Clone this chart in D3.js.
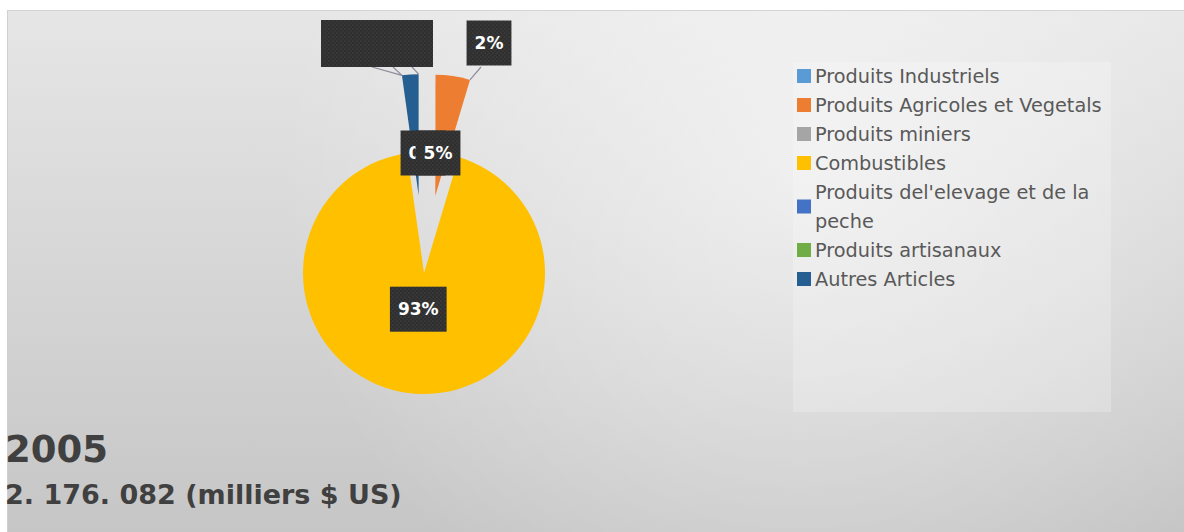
<!DOCTYPE html>
<html><head><meta charset="utf-8">
<script src="https://cdn.jsdelivr.net/npm/d3@7"></script>
<style>body{margin:0;background:#fff;overflow:hidden}svg{display:block}</style>
</head><body>
<script>
// ---- data ----
const categories = ["Produits Industriels","Produits Agricoles et Vegetals","Produits miniers","Combustibles","Produits del'elevage et de la peche","Produits artisanaux","Autres Articles"];
const values = [0.02, 4.6, 0.02, 93.12, 0.02, 0.02, 2.2];
const colors = ["#5B9BD5","#ED7D31","#A5A5A5","#FFC000","#4472C4","#70AD47","#255E91"];
const titleYear = "2005";
const subtitle = "2. 176. 082 (milliers $ US)";

const W = 1184, H = 532;
const svg = d3.select("body").append("svg").attr("width", W).attr("height", H);
const defs = svg.append("defs");

// background gradients
const lg = defs.append("linearGradient").attr("id","bgLin").attr("x1",0).attr("y1",0).attr("x2",0).attr("y2",1);
lg.append("stop").attr("offset","0%").attr("stop-color","#e6e6e6");
lg.append("stop").attr("offset","100%").attr("stop-color","#c6c6c6");
const rg = defs.append("radialGradient").attr("id","bgRad").attr("gradientUnits","userSpaceOnUse")
  .attr("cx",800).attr("cy",170).attr("r",520);
rg.append("stop").attr("offset","0%").attr("stop-color","#ffffff").attr("stop-opacity",0.55);
rg.append("stop").attr("offset","100%").attr("stop-color","#ffffff").attr("stop-opacity",0);

const pat = defs.append("pattern").attr("id","dots").attr("patternUnits","userSpaceOnUse").attr("width",4).attr("height",4);
pat.append("rect").attr("width",4).attr("height",4).attr("fill","#2f2f2f");
pat.append("circle").attr("cx",1).attr("cy",1).attr("r",0.6).attr("fill","#555");
pat.append("circle").attr("cx",3).attr("cy",3).attr("r",0.6).attr("fill","#4a4a4a");

svg.append("rect").attr("x",7).attr("y",10).attr("width",W-7).attr("height",H-10).attr("fill","url(#bgLin)");
svg.append("rect").attr("x",7).attr("y",10).attr("width",W-7).attr("height",H-10).attr("fill","url(#bgRad)");
svg.append("line").attr("x1",7).attr("x2",W).attr("y1",10.5).attr("y2",10.5).attr("stroke","#d4d4d4");
svg.append("line").attr("x1",7.5).attr("x2",7.5).attr("y1",10).attr("y2",H).attr("stroke","#d0d0d0");

// ---- pie ----
const cx = 424, cy = 273, r = 121, explode = 78;
const pie = d3.pie().sort(null).value(d => d);
const arcs = pie(values);
const arc = d3.arc().innerRadius(0).outerRadius(r);
const offsetOf = (d, i) => {
  if (i === 3) return [0, 0];
  const m = (d.startAngle + d.endAngle) / 2;
  return [explode * Math.sin(m), -explode * Math.cos(m)];
};
const g = svg.append("g").attr("transform", `translate(${cx},${cy})`);
g.selectAll("path.slice").data(arcs.filter(d => d.value >= 0.5)).join("path")
  .attr("class","slice")
  .attr("transform",d=>{const o=offsetOf(d,d.index);return `translate(${o[0]},${o[1]})`;})
  .attr("d", arc)
  .attr("fill",d=>colors[d.index]);

// outer corner of a slice (absolute coords)
function corner(i, which){
  const d = arcs[i], o = offsetOf(d,i);
  const a = which === 0 ? d.startAngle : d.endAngle;
  return [cx + o[0] + r*Math.sin(a), cy + o[1] - r*Math.cos(a)];
}
const pct = v => Math.round(v / d3.sum(values) * 100) + "%";

// label boxes
const lblLayer = svg.append("g");
const leaders = [
  {from:[372,67], to:corner(6,0)},
  {from:[393,67], to:corner(6,0)},
  {from:[412,67], to:corner(6,1)},
  {from:[481,67], to:corner(1,1)}
];
lblLayer.selectAll("line.leader").data(leaders).join("line")
  .attr("x1",d=>d.from[0]).attr("y1",d=>d.from[1]).attr("x2",d=>d.to[0]).attr("y2",d=>d.to[1])
  .attr("stroke","#8c8c9c").attr("stroke-width",1.2);

// overlapping labels whose text is hidden (left group)
lblLayer.append("rect").attr("x",321).attr("y",20).attr("width",70).attr("height",47).attr("fill","url(#dots)");
lblLayer.append("rect").attr("x",363).attr("y",20).attr("width",70).attr("height",47).attr("fill","url(#dots)");

const cent = d3.arc().innerRadius(0).outerRadius(r*0.6).centroid(arcs[3]);
const labels = [
  {i:0, x:423, y:153},
  {i:1, x:438, y:153},
  {i:6, x:489, y:43},
  {i:3, x:cx+cent[0]-3, y:cy+cent[1]}
];
labels.forEach(L=>{
  const t = lblLayer.append("text").attr("x",L.x).attr("y",L.y).attr("text-anchor","middle")
    .attr("dominant-baseline","central").attr("font-family","'DejaVu Sans',sans-serif").attr("font-weight","bold")
    .attr("font-size",17).attr("fill","#fff").text(pct(values[L.i]));
  const w = t.node().getComputedTextLength() + 16;
  lblLayer.insert("rect", function(){return t.node();})
    .attr("x",L.x - w/2).attr("y",L.y-22.5).attr("width",w).attr("height",45).attr("fill","url(#dots)");
});

// ---- legend ----
const lgX = 793, lgY = 62;
svg.append("rect").attr("x",lgX).attr("y",lgY).attr("width",318).attr("height",350)
  .attr("fill","#ffffff").attr("fill-opacity",0.22);
const rowH = 29;
let yy = lgY + 14;
categories.forEach((c,i)=>{
  const t = svg.append("text").attr("x",lgX+22).attr("font-family","'DejaVu Sans',sans-serif")
    .attr("font-size",19.3).attr("fill","#595959");
  const words = c.split(" ");
  let lines = [], cur = "";
  const maxW = 300;
  const probe = t.append("tspan");
  words.forEach(w=>{
    const test = cur ? cur + " " + w : w;
    probe.text(test);
    if (probe.node().getComputedTextLength() > maxW && cur){ lines.push(cur); cur = w; }
    else cur = test;
  });
  lines.push(cur);
  probe.remove();
  lines.forEach((ln,k)=>{
    t.append("tspan").attr("x",lgX+22).attr("y",yy + k*rowH).attr("dominant-baseline","central").text(ln);
  });
  const midY = yy + (lines.length-1)*rowH/2;
  svg.append("rect").attr("x",lgX+4).attr("y",midY-7).attr("width",14).attr("height",14).attr("fill",colors[i]);
  yy += lines.length*rowH;
});

// ---- titles ----
svg.append("text").attr("x",5).attr("y",462).attr("font-family","'DejaVu Sans',sans-serif").attr("font-weight","bold")
  .attr("font-size",37).attr("fill","#404040").text(titleYear);
svg.append("text").attr("x",5).attr("y",504).attr("font-family","'DejaVu Sans',sans-serif").attr("font-weight","bold")
  .attr("font-size",27).attr("fill","#404040").text(subtitle);
</script>
</body></html>
